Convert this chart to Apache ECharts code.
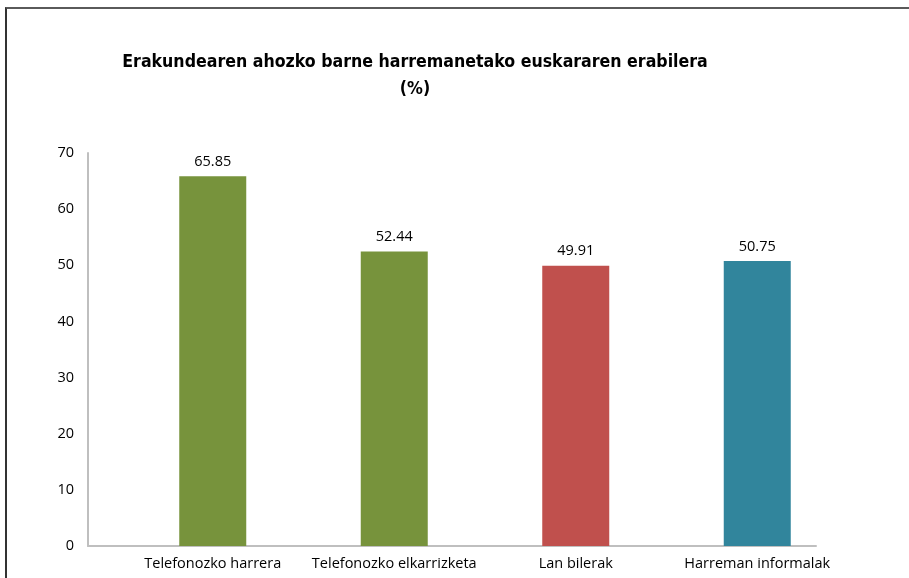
<!DOCTYPE html>
<html>
<head>
<meta charset="utf-8">
<script src="https://cdn.jsdelivr.net/npm/echarts@6/dist/echarts.min.js"></script>
<style>
  html, body { margin: 0; padding: 0; background: #fff; }
  #frame {
    position: absolute; left: 5px; top: 7px; right: 0; bottom: 0;
    border-top: 2px solid #5a5a5a; border-left: 2px solid #333;
  }
  #chart { position: absolute; left: 0; top: 0; width: 909px; height: 578px; }
</style>
</head>
<body>
<div id="frame"></div>
<div id="chart"></div>
<script>
// datuak
const categories = ['Telefonozko harrera', 'Telefonozko elkarrizketa', 'Lan bilerak', 'Harreman informalak'];
const values = [65.85, 52.44, 49.91, 50.75];
const barColors = ['#77933C', '#77933C', '#C0504D', '#31859C'];
const yTicks = [0, 10, 20, 30, 40, 50, 60, 70];

const myChart = echarts.init(document.getElementById('chart'));

const labelFont = '"Open Sans", Lato, sans-serif';

let option = {
  animation: false,
  title: {
    text: 'Erakundearen ahozko barne harremanetako euskararen erabilera\n(%)',
    left: 410,
    top: 44,
    textAlign: 'center',
    textStyle: {
      fontFamily: '"DejaVu Sans Condensed", "DejaVu Sans", sans-serif',
      fontWeight: 'bold',
      fontSize: 17.6,
      lineHeight: 27,
      color: '#000',
    },
  },
  grid: [
    // ardatzak
    { left: 88, right: 93, top: 153, bottom: 32 },
    // barrak
    { left: 122, right: 61, top: 153, bottom: 32 },
  ],
  xAxis: [
    {
      gridIndex: 0,
      type: 'category',
      data: categories,
      axisLine: { lineStyle: { color: '#BFBFBF', width: 2 } },
      axisTick: { show: false },
      axisLabel: { show: false },
    },
    {
      gridIndex: 1,
      type: 'category',
      data: categories,
      axisLine: { show: false },
      axisTick: { show: false },
      axisLabel: {
        interval: 0,
        margin: 10,
        fontFamily: labelFont,
        fontSize: 14.5,
        color: '#000',
      },
    },
  ],
  yAxis: [
    {
      gridIndex: 0,
      type: 'value',
      min: yTicks[0],
      max: yTicks[yTicks.length - 1],
      interval: 10,
      axisLine: { show: true, lineStyle: { color: '#BFBFBF', width: 2 } },
      axisTick: { show: false },
      splitLine: { show: false },
      axisLabel: {
        margin: 14,
        fontFamily: labelFont,
        fontSize: 14.5,
        color: '#000',
      },
    },
    {
      gridIndex: 1,
      type: 'value',
      min: yTicks[0],
      max: yTicks[yTicks.length - 1],
      show: false,
      splitLine: { show: false },
    },
  ],
  series: [
    {
      type: 'bar',
      xAxisIndex: 1,
      yAxisIndex: 1,
      barWidth: 67,
      data: values.map((v, i) => ({ value: v, itemStyle: { color: barColors[i] } })),
      label: {
        show: true,
        position: 'top',
        distance: 7,
        fontFamily: labelFont,
        fontSize: 14.5,
        color: '#000',
        formatter: p => p.value.toFixed(2),
      },
    },
  ],
};

myChart.setOption(option);
</script>
</body>
</html>
